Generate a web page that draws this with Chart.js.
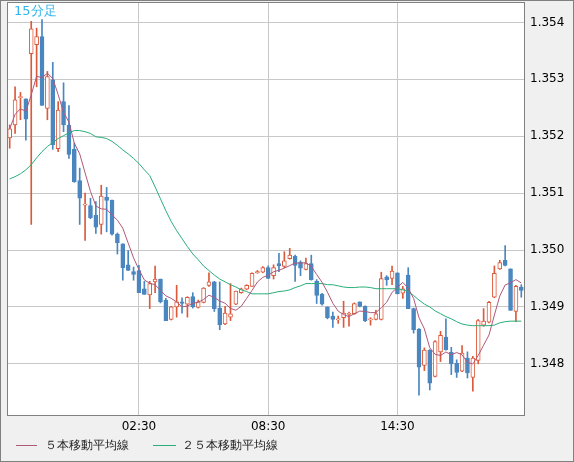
<!DOCTYPE html>
<html>
<head>
<meta charset="utf-8">
<script src="https://cdn.jsdelivr.net/npm/chart.js@4/dist/chart.umd.min.js"></script>
<style>
  html, body { margin: 0; padding: 0; background: #f0f0f0; }
  canvas { display: block; }
</style>
</head>
<body>
<canvas id="chartCandle" width="574" height="462"></canvas>
<script>
// 15分足, 96本
const openP = [1.35197,1.35220,1.35268,1.35266,1.35345,1.35361,1.35375,1.35249,1.35299,1.35178,1.35261,1.35219,1.35177,1.35122,1.35079,1.35078,1.35061,1.35045,1.35093,1.35088,1.35028,1.35011,1.34974,1.34962,1.34964,
  1.34932,1.34921,1.34944,1.34949,1.34912,1.34878,1.34900,1.34909,1.34905,1.34918,1.34899,1.34908,1.34938,1.34944,1.34898,1.34870,1.34882,1.34905,1.34925,1.34931,1.34936,1.34960,1.34961,1.34969,
  1.34955,1.34976,1.34971,1.34985,1.34989,1.34979,1.34966,1.34976,1.34945,1.34922,1.34900,1.34884,1.34877,1.34881,1.34887,1.34888,1.34909,1.34901,1.34877,1.34878,1.34878,1.34953,1.34950,1.34960,
  1.34924,1.34956,1.34897,1.34861,1.34797,1.34824,1.34778,1.34821,1.34847,1.34820,1.34801,1.34787,1.34810,1.34776,1.34806,1.34868,1.34873,1.34917,1.34967,1.34982,1.34967,1.34892,1.34935];
const highP = [1.35220,1.35287,1.35277,1.35266,1.35402,1.35390,1.35405,1.35314,1.35330,1.35261,1.35294,1.35254,1.35188,1.35144,1.35100,1.35091,1.35085,1.35114,1.35110,1.35088,1.35030,1.35011,1.34999,1.34970,1.34973,
  1.34945,1.34945,1.34972,1.34949,1.34915,1.34901,1.34938,1.34916,1.34918,1.34925,1.34912,1.34934,1.34960,1.34945,1.34944,1.34901,1.34941,1.34928,1.34933,1.34939,1.34960,1.34964,1.34971,1.34972,
  1.34974,1.34994,1.34997,1.35003,1.34991,1.34981,1.34986,1.34991,1.34948,1.34924,1.34900,1.34891,1.34884,1.34910,1.34891,1.34907,1.34909,1.34902,1.34881,1.34894,1.34961,1.34955,1.34972,1.34960,
  1.34936,1.34969,1.34898,1.34862,1.34828,1.34825,1.34841,1.34857,1.34879,1.34829,1.34807,1.34832,1.34821,1.34813,1.34878,1.34897,1.34910,1.34972,1.34982,1.35008,1.34967,1.34938,1.34939];
const lowP = [1.35179,1.35205,1.35229,1.35193,1.35045,1.35287,1.35254,1.35229,1.35177,1.35173,1.35208,1.35161,1.35119,1.35045,1.35017,1.35055,1.35029,1.35028,1.35032,1.35026,1.34993,1.34947,1.34964,1.34947,1.34925,
  1.34922,1.34897,1.34925,1.34907,1.34876,1.34877,1.34882,1.34889,1.34882,1.34898,1.34898,1.34907,1.34936,1.34892,1.34860,1.34869,1.34876,1.34904,1.34924,1.34930,1.34936,1.34959,1.34960,1.34950,
  1.34949,1.34962,1.34969,1.34984,1.34945,1.34955,1.34965,1.34947,1.34906,1.34903,1.34879,1.34864,1.34871,1.34864,1.34866,1.34887,1.34900,1.34874,1.34868,1.34877,1.34877,1.34938,1.34939,1.34923,
  1.34915,1.34897,1.34854,1.34745,1.34788,1.34754,1.34777,1.34804,1.34824,1.34781,1.34776,1.34786,1.34775,1.34752,1.34800,1.34866,1.34872,1.34916,1.34966,1.34972,1.34894,1.34874,1.34917];
const closeP = [1.35213,1.35264,1.35268,1.35230,1.35389,1.35375,1.35254,1.35305,1.35185,1.35246,1.35220,1.35168,1.35120,1.35091,1.35079,1.35057,1.35040,1.35095,1.35087,1.35028,1.35013,1.34969,1.34964,1.34957,1.34925,
  1.34922,1.34941,1.34949,1.34909,1.34876,1.34900,1.34909,1.34906,1.34917,1.34900,1.34909,1.34933,1.34944,1.34897,1.34869,1.34889,1.34888,1.34928,1.34932,1.34938,1.34959,1.34962,1.34969,1.34950,
  1.34969,1.34972,1.34981,1.34991,1.34973,1.34968,1.34976,1.34948,1.34920,1.34905,1.34881,1.34878,1.34879,1.34889,1.34888,1.34906,1.34901,1.34876,1.34879,1.34888,1.34950,1.34948,1.34963,1.34923,
  1.34932,1.34897,1.34860,1.34794,1.34824,1.34766,1.34839,1.34850,1.34825,1.34800,1.34785,1.34819,1.34784,1.34810,1.34876,1.34875,1.34908,1.34959,1.34978,1.34973,1.34894,1.34936,1.34929];
const ma25 = [1.35125,1.35129,1.35134,1.35141,1.35150,1.35162,1.35173,1.35182,1.35189,1.35196,1.35201,1.35206,1.35210,1.35210,1.35208,1.35205,1.35199,1.35198,1.35196,1.35191,1.35184,1.35176,1.35169,1.35161,1.35152,
  1.35141,1.35131,1.35111,1.35090,1.35069,1.35050,1.35034,1.35020,1.35006,1.34993,1.34983,1.34972,1.34964,1.34956,1.34949,1.34944,1.34939,1.34935,1.34930,1.34927,1.34923,1.34923,1.34923,1.34923,
  1.34925,1.34927,1.34928,1.34930,1.34934,1.34937,1.34941,1.34941,1.34941,1.34941,1.34939,1.34939,1.34937,1.34935,1.34934,1.34934,1.34935,1.34935,1.34934,1.34932,1.34932,1.34932,1.34932,1.34932,
  1.34930,1.34927,1.34920,1.34912,1.34905,1.34900,1.34893,1.34888,1.34883,1.34879,1.34874,1.34870,1.34868,1.34867,1.34867,1.34867,1.34867,1.34868,1.34872,1.34874,1.34875,1.34875,1.34875];
const yTicks = [1.348, 1.349, 1.350, 1.351, 1.352, 1.353, 1.354];
const xTickLabels = { 24: "02:30", 48: "08:30", 72: "14:30" };

const labels = closeP.map((_, i) => {
  const m = 20 * 60 + 30 + i * 15;
  const h = Math.floor(m / 60) % 24, mm = m % 60;
  return String(h).padStart(2, "0") + ":" + String(mm).padStart(2, "0");
});

// ５本移動平均線 (終値から)
const ma5 = closeP.map((_, i) => {
  const s = closeP.slice(Math.max(0, i - 4), i + 1);
  return s.reduce((a, b) => a + b, 0) / s.length;
});

const UP = "#dc5a3c", DOWN = "#4a86bf";
const isUp = closeP.map((c, i) => c >= openP[i]);

const bgPlugin = {
  id: "bg",
  beforeDraw(chart) {
    const { ctx, chartArea: a } = chart;
    ctx.save();
    ctx.fillStyle = "#f0f0f0";
    ctx.fillRect(0, 0, chart.width, chart.height);
    ctx.fillStyle = "#ffffff";
    ctx.fillRect(a.left, a.top, a.right - a.left, a.bottom - a.top);
    ctx.restore();
  },
  afterDraw(chart) {
    const { ctx, chartArea: a } = chart;
    ctx.save();
    ctx.strokeStyle = "#808080";
    ctx.lineWidth = 1;
    ctx.strokeRect(a.left + 0.5, a.top + 0.5, a.right - a.left, a.bottom - a.top);
    ctx.strokeRect(0.5, 0.5, chart.width - 1, chart.height - 1);
    ctx.font = "13px 'DejaVu Sans'";
    ctx.textBaseline = "middle";
    ctx.fillStyle = "#30b4ee";
    ctx.fillText("15分足", 14, 12);
    ctx.font = "12px 'DejaVu Sans'";
    ctx.lineWidth = 1;
    ctx.strokeStyle = "#b0587a";
    ctx.beginPath(); ctx.moveTo(16, 445.5); ctx.lineTo(37, 445.5); ctx.stroke();
    ctx.strokeStyle = "#2aae7a";
    ctx.beginPath(); ctx.moveTo(153, 445.5); ctx.lineTo(176, 445.5); ctx.stroke();
    ctx.fillStyle = "#222";
    ctx.fillText("５本移動平均線", 45, 446);
    ctx.fillText("２５本移動平均線", 182, 446);
    ctx.restore();
  }
};

new Chart(document.getElementById("chartCandle"), {
  type: "bar",
  data: {
    labels: labels,
    datasets: [
      {
        type: "line", label: "５本移動平均線", data: ma5,
        borderColor: "#b0587a", borderWidth: 1, pointRadius: 0, tension: 0, order: 0
      },
      {
        type: "line", label: "２５本移動平均線", data: ma25,
        borderColor: "#2aae7a", borderWidth: 1, pointRadius: 0, tension: 0, order: 1
      },
      {
        label: "body", data: openP.map((o, i) => [o, closeP[i]]),
        backgroundColor: isUp.map(u => u ? "#ffffff" : DOWN),
        borderColor: isUp.map(u => u ? UP : DOWN),
        borderWidth: 1, borderSkipped: false, barThickness: 4, minBarLength: 1,
        grouped: false, order: 2
      },
      {
        label: "wick", data: lowP.map((l, i) => [l, highP[i]]),
        backgroundColor: isUp.map(u => u ? UP : DOWN),
        borderWidth: 0, barThickness: 1, grouped: false, order: 3
      }
    ]
  },
  options: {
    responsive: false,
    animation: false,
    layout: { padding: { left: 7, top: 2, right: 0, bottom: 0 } },
    plugins: { legend: { display: false }, tooltip: { enabled: false } },
    scales: {
      x: {
        offset: true,
        grid: {
          offset: false,
          color: c => (xTickLabels[c.index] ? "#c8c8c8" : "rgba(0,0,0,0)"),
          drawTicks: false
        },
        border: { display: false },
        ticks: {
          autoSkip: false, maxRotation: 0, padding: 5,
          color: "#000", font: { family: "DejaVu Sans", size: 12 },
          callback: (v, i) => xTickLabels[i] || ""
        },
        afterFit: s => { s.height = 47; s.paddingLeft = 0; s.paddingRight = 0; }
      },
      y: {
        position: "right",
        min: 1.34710, max: 1.35436,
        afterBuildTicks: s => { s.ticks = yTicks.map(v => ({ value: v })); },
        grid: { color: "#c8c8c8", drawTicks: false },
        border: { display: false },
        ticks: {
          padding: 6, color: "#000", font: { family: "DejaVu Sans", size: 12 },
          callback: v => v.toFixed(3)
        },
        afterFit: s => { s.width = 50; s.paddingTop = 0; s.paddingBottom = 0; }
      }
    }
  },
  plugins: [bgPlugin]
});
</script>
</body>
</html>
